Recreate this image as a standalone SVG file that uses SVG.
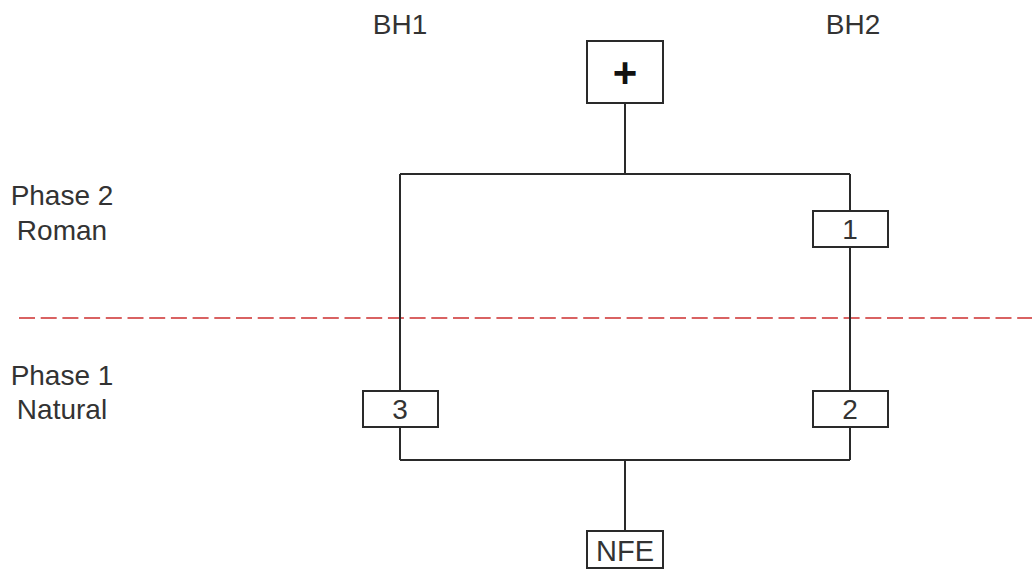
<svg xmlns="http://www.w3.org/2000/svg" width="1032" height="572" viewBox="0 0 1032 572">
<style>
.t{font-family:"Liberation Sans",Arial,sans-serif;font-size:28px;fill:#333;text-anchor:middle}
.b{fill:#fff;stroke:#2a2a2a;stroke-width:2}
.c{fill:none;stroke:#2a2a2a;stroke-width:2}
</style>
<rect width="1032" height="572" fill="#fff"/>
<g id="labels">
<text class="t" x="400" y="34">BH1</text>
<text class="t" x="853" y="34">BH2</text>
<text class="t" x="62" y="205">Phase 2</text>
<text class="t" x="62" y="240">Roman</text>
<text class="t" x="62" y="385">Phase 1</text>
<text class="t" x="62" y="419">Natural</text>
</g>
<line id="divider" x1="19" y1="318" x2="1032" y2="318" stroke="#d96262" stroke-width="2" stroke-dasharray="16,5.7"/>
<g id="connectors">
<path class="c" d="M625 103V174M400 174H850M400 174V391M400 427V460M850 174V211M850 247V391M850 427V460M400 460H850M625 460V531"/>
</g>
<g id="node-plus">
<rect class="b" x="587" y="41" width="76" height="62"/>
<text x="625" y="87" style="font-family:'Liberation Sans',Arial,sans-serif;font-size:42px;font-weight:bold;fill:#111;text-anchor:middle">+</text>
</g>
<g id="node-1">
<rect class="b" x="813" y="211" width="75" height="36"/>
<text class="t" x="850" y="239">1</text>
</g>
<g id="node-3">
<rect class="b" x="363" y="391" width="75" height="36"/>
<text class="t" x="400" y="419">3</text>
</g>
<g id="node-2">
<rect class="b" x="813" y="391" width="75" height="36"/>
<text class="t" x="850" y="419">2</text>
</g>
<g id="node-nfe">
<rect class="b" x="587" y="531" width="76" height="37"/>
<text class="t" x="625" y="561" style="font-size:29px">NFE</text>
</g>
</svg>
